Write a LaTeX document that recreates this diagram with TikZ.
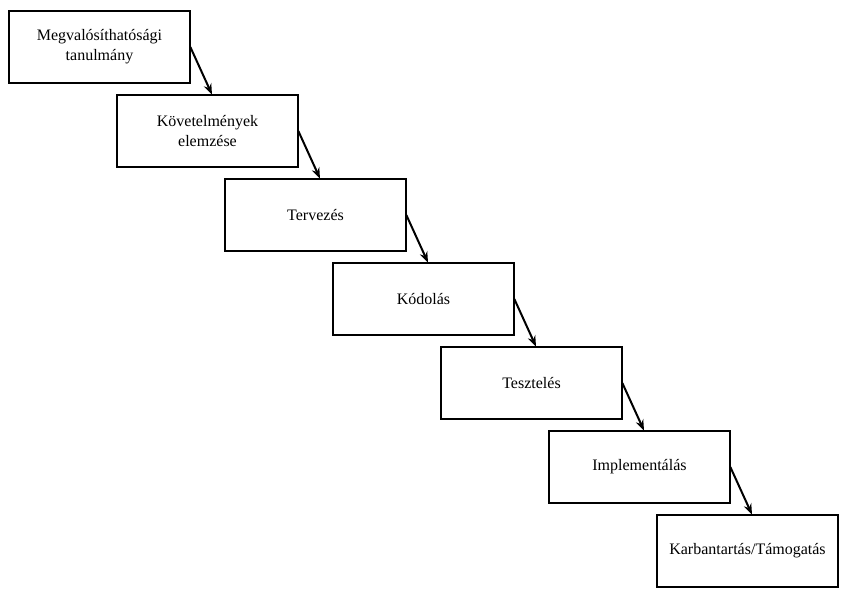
\documentclass[tikz,border=0pt]{standalone}
\usepackage{fontspec}
\setmainfont{Liberation Serif}
\usetikzlibrary{arrows.meta}
\begin{document}
\begin{tikzpicture}[x=0.75pt,y=-0.75pt,
  phase/.style={draw=black,line width=1.5pt,minimum width=181*0.75pt,minimum height=72*0.75pt,
    inner sep=0pt,align=center,font=\fontsize{12pt}{15pt}\selectfont,anchor=north west},
  flow/.style={line width=1.5pt,-{Stealth[length=8pt,width=6pt]}}]
\useasboundingbox (0,0) rectangle (846,596);
\node[phase] (b1) at (8,10) {Megvalósíthatósági\\tanulmány};
\node[phase] (b2) at (116,94) {Követelmények\\elemzése};
\node[phase] (b3) at (224,178) {Tervezés};
\node[phase] (b4) at (332,262) {Kódolás};
\node[phase] (b5) at (440,346) {Tesztelés};
\node[phase] (b6) at (548,430) {Implementálás};
\node[phase] (b7) at (656,514) {Karbantartás/Támogatás};
\foreach \a/\b in {b1/b2,b2/b3,b3/b4,b4/b5,b5/b6,b6/b7}{
  \draw[flow] ([xshift=-0.5pt]\a.east) -- ([xshift=96*0.75pt,yshift=-0.4pt]\b.north west);
}
\end{tikzpicture}
\end{document}
